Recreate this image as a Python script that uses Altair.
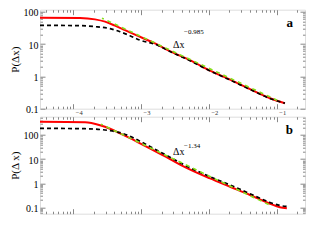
import altair as alt
import pandas as pd

# ---------------- data ----------------
# panel a
a_red_x = [3.23e-5, 1.256e-4, 2.09e-4, 2.94e-4, 4.12e-4, 5.79e-4, 8.13e-4, 1.60e-3,
           2.86e-3, 5.26e-3, 1.04e-2, 2.05e-2, 4.04e-2, 7.96e-2, 0.132]
a_red_y = [65.2, 63.8, 57.8, 49.1, 36.9, 26.8, 19.5, 10.4, 5.58, 3.16, 1.50, 0.789,
           0.401, 0.211, 0.148]
a_blk_x = [3.23e-5, 1.256e-4, 2.09e-4, 3.48e-4, 4.89e-4, 6.85e-4, 9.64e-4, 1.60e-3,
           2.86e-3, 5.26e-3, 1.04e-2, 2.05e-2, 4.04e-2, 7.96e-2, 0.132]
a_blk_y = [37.7, 36.9, 34.4, 29.8, 24.0, 18.1, 13.1, 9.89, 5.47, 3.05, 1.47, 0.771,
           0.393, 0.207, 0.148]
a_fit_x = [2.65e-4, 0.101]
a_fit_y = [63.0, 0.183]

# panel b
b_red_x = [3.23e-5, 1.49e-4, 2.48e-4, 3.48e-4, 4.89e-4, 6.85e-4, 9.64e-4, 1.60e-3,
           2.67e-3, 3.75e-3, 1.04e-2, 2.05e-2, 4.04e-2, 7.96e-2, 0.111, 0.141]
b_red_y = [356, 339, 255, 182, 116, 73.6, 44.9, 21.3, 10.1, 5.98, 1.59, 0.719, 0.326,
           0.142, 0.102, 0.0925]
b_blk_x = [3.23e-5, 1.49e-4, 2.48e-4, 3.48e-4, 4.89e-4, 6.85e-4, 9.64e-4, 1.60e-3,
           2.67e-3, 3.75e-3, 1.04e-2, 2.05e-2, 4.04e-2, 7.96e-2, 0.111, 0.141]
b_blk_y = [188, 182, 169, 151, 125, 89.1, 55.4, 25.8, 12.0, 7.11, 1.87, 0.847, 0.369,
           0.160, 0.120, 0.109]
b_fit_x = [2.56e-4, 8.53e-2]
b_fit_y = [281, 0.112]

# axes
X_DOMAIN = [3.23e-5, 0.261]
A_Y_DOMAIN = [0.1, 115]
B_Y_DOMAIN = [0.0548, 573]
X_MAJOR = [1e-4, 1e-3, 1e-2, 1e-1]
Y_MAJOR = [0.1, 1, 10, 100]

# annotation texts
A_EXP = "\u22120.985"
B_EXP = "\u22121.34"


def minors(lo, hi):
    out = []
    for e in range(-6, 4):
        for m in range(2, 10):
            v = m * 10.0 ** e
            if lo < v < hi:
                out.append(v)
    return out


SERIF = "Liberation Serif"
TC = "#888888"
W = 265


def panel(red_x, red_y, blk_x, blk_y, fit_x, fit_y, ydom, h, ytitle, letter,
          expo, dx_at, sup_at, xlabels):
    xs = alt.Scale(type="log", domain=X_DOMAIN, nice=False)
    ys = alt.Scale(type="log", domain=ydom, nice=False)

    def enc():
        return dict(x=alt.X("dx:Q", scale=xs, axis=None),
                    y=alt.Y("p:Q", scale=ys, axis=None))

    red = alt.Chart(pd.DataFrame({"dx": red_x, "p": red_y})).mark_line(
        color="#ff0000", strokeWidth=2, interpolate="monotone").encode(**enc())
    blk = alt.Chart(pd.DataFrame({"dx": blk_x, "p": blk_y})).mark_line(
        color="#000000", strokeWidth=1.7, strokeDash=[4, 3],
        interpolate="monotone").encode(**enc())
    fit = alt.Chart(pd.DataFrame({"dx": fit_x, "p": fit_y})).mark_line(
        color="#86e01c", strokeWidth=1.6, strokeDash=[4, 4],
        strokeDashOffset=2).encode(**enc())

    t1 = alt.Chart(pd.DataFrame({"dx": [dx_at[0]], "p": [dx_at[1]], "t": ["\u0394x"]})).mark_text(
        align="left", baseline="alphabetic", font=SERIF, fontSize=10, color="#000"
    ).encode(text="t:N", **enc())
    t2 = alt.Chart(pd.DataFrame({"dx": [sup_at[0]], "p": [sup_at[1]], "t": [expo]})).mark_text(
        align="left", baseline="alphabetic", font=SERIF, fontSize=7, color="#000"
    ).encode(text="t:N", **enc())
    lt = alt.Chart(pd.DataFrame({"t": [letter]})).mark_text(
        align="right", baseline="alphabetic", font=SERIF, fontSize=13,
        fontWeight="bold", color="#000"
    ).encode(text="t:N", x=alt.value(W - 12), y=alt.value(17))

    anchor = pd.DataFrame({"dx": [1e-3], "p": [1.0]})
    common = dict(grid=False, domain=False, tickColor=TC, tickWidth=1)

    def axis_layer(xaxis, yaxis):
        return alt.Chart(anchor).mark_point(opacity=0).encode(
            x=alt.X("dx:Q", scale=xs, axis=xaxis, title=None),
            y=alt.Y("p:Q", scale=ys, axis=yaxis, title=None))

    if xlabels:
        xb_major = alt.Axis(orient="bottom", values=X_MAJOR, tickSize={"expr": "-5"},
                            labels=True,
                            labelExpr="'\u2212' + round(-log(datum.value)/LN10)",
                            labelFont=SERIF, labelFontSize=6.5, labelPadding=6,
                            labelAlign="left", labelOffset=2, labelOverlap=False,
                            labelColor="#333", labelFlush=False, **common)
    else:
        xb_major = alt.Axis(orient="bottom", values=X_MAJOR, tickSize={"expr": "-5"},
                            labels=False, **common)
    yl_major = alt.Axis(orient="left", values=Y_MAJOR, tickSize={"expr": "-5"},
                        format="~g", labelFont=SERIF, labelFontSize=10,
                        labelPadding=7, labelOffset=1, labelColor="#000",
                        labelOverlap=False, labelFlush=False, title=ytitle,
                        titleFont=SERIF, titleFontSize=11, titleFontWeight="normal",
                        titlePadding=3, titleColor="#000", **common)
    xmin = minors(*X_DOMAIN)
    ymin = minors(*ydom)
    l1 = axis_layer(xb_major, yl_major)
    l2 = axis_layer(alt.Axis(orient="bottom", values=xmin, tickSize={"expr": "-2.5"},
                             labels=False, **common),
                    alt.Axis(orient="left", values=ymin, tickSize={"expr": "-2.5"},
                             labels=False, **common))
    l3 = axis_layer(alt.Axis(orient="top", values=X_MAJOR, tickSize={"expr": "-5"},
                             labels=False, **common),
                    alt.Axis(orient="right", values=Y_MAJOR, tickSize={"expr": "-5"},
                             labels=False, **common))
    l4 = axis_layer(alt.Axis(orient="top", values=xmin, tickSize={"expr": "-2.5"},
                             labels=False, **common),
                    alt.Axis(orient="right", values=ymin, tickSize={"expr": "-2.5"},
                             labels=False, **common))

    return alt.layer(l1, l2, l3, l4, red, blk, fit, t1, t2, lt).resolve_axis(
        x="independent", y="independent").properties(width=W, height=h)


pa = panel(a_red_x, a_red_y, a_blk_x, a_blk_y, a_fit_x, a_fit_y, A_Y_DOMAIN, 99,
           "P(\u0394x)", "a", A_EXP, (2.95e-3, 7.7), (4.3e-3, 20.9), True)
pb = panel(b_red_x, b_red_y, b_blk_x, b_blk_y, b_fit_x, b_fit_y, B_Y_DOMAIN, 97,
           "P(\u0394 x)", "b", B_EXP, (2.95e-3, 15.3), (4.3e-3, 29.8), False)

chart = alt.vconcat(pa, pb, spacing=8, bounds="flush").properties(
    padding={"left": 0, "top": -1.3, "right": 0, "bottom": 0},
    background="white",
).configure_view(stroke=TC, strokeWidth=2).configure(font=SERIF)

chart.save("out.html", embed_options={"renderer": "svg", "actions": False})
